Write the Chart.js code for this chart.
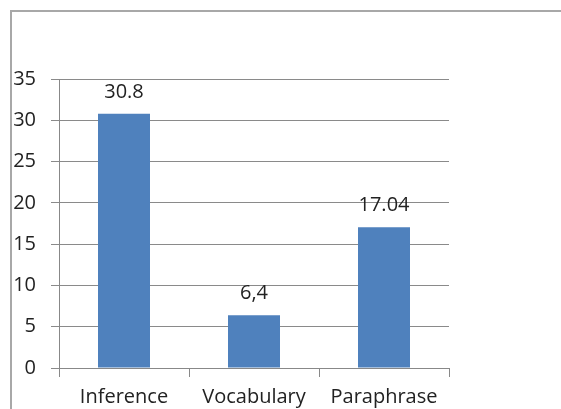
<!DOCTYPE html>
<html>
<head>
<meta charset="utf-8">
<script src="https://cdn.jsdelivr.net/npm/chart.js@4"></script>
<style>
  html, body { margin: 0; padding: 0; background: #fff; }
  #wrap { position: relative; width: 561px; height: 409px; overflow: hidden; }
  #frame { position: absolute; left: 10px; top: 10px; width: 600px; height: 500px;
           border-left: 2px solid #a8a8a8; border-top: 2px solid #a8a8a8; }
  canvas { position: absolute; left: 0; top: 0; }
</style>
</head>
<body>
<div id="wrap">
  <div id="frame"></div>
  <canvas id="graf" width="561" height="409"></canvas>
</div>
<script>
// dados
const categorias = ['Inference', 'Vocabulary', 'Paraphrase']
const valores = [30.8, 6.4, 17.04]
const rotulos = ['30.8', '6,4', '17.04']   // como aparecem no gráfico
const yTicks = [0, 5, 10, 15, 20, 25, 30, 35]

const fonte = '"Open Sans", sans-serif'

// rótulos em cima das barras
const rotulosPlugin = {
  id: 'rotulos',
  afterDatasetsDraw(chart) {
    const c = chart.ctx
    const meta = chart.getDatasetMeta(0)
    c.save()
    c.font = '20px ' + fonte
    c.fillStyle = '#222'
    c.textAlign = 'center'
    c.textBaseline = 'alphabetic'
    meta.data.forEach((bar, i) => {
      c.fillText(rotulos[i], bar.x, bar.y - 16)
    })
    c.restore()
  }
}

let ctx = document.getElementById('graf').getContext('2d')

const grafico = new Chart(ctx, {
  type: 'bar',
  data: {
    labels: categorias,
    datasets: [{
      data: valores,
      backgroundColor: '#4f81bd',
      borderWidth: 0,
      categoryPercentage: 1,
      barPercentage: 0.4
    }]
  },
  options: {
    responsive: false,
    animation: false,
    layout: { padding: { top: 79, right: 112, bottom: 0, left: 0 } },
    plugins: {
      legend: { display: false },
      tooltip: { enabled: false }
    },
    scales: {
      x: {
        grid: { offset: true, drawOnChartArea: false, tickLength: 9, color: '#888' },
        border: { color: '#888' },
        ticks: { color: '#222', font: { size: 20, family: fonte }, padding: 8, maxRotation: 0 },
        afterFit: s => { s.height = 41 }
      },
      y: {
        min: 0,
        max: 35,
        afterBuildTicks: s => { s.ticks = yTicks.map(v => ({ value: v })) },
        grid: { color: '#8a8a8a', tickLength: 8 },
        border: { color: '#888' },
        ticks: { color: '#222', font: { size: 20, family: fonte }, padding: 15 },
        afterFit: s => { s.width = 59 }
      }
    }
  },
  plugins: [rotulosPlugin]
})
</script>
</body>
</html>
